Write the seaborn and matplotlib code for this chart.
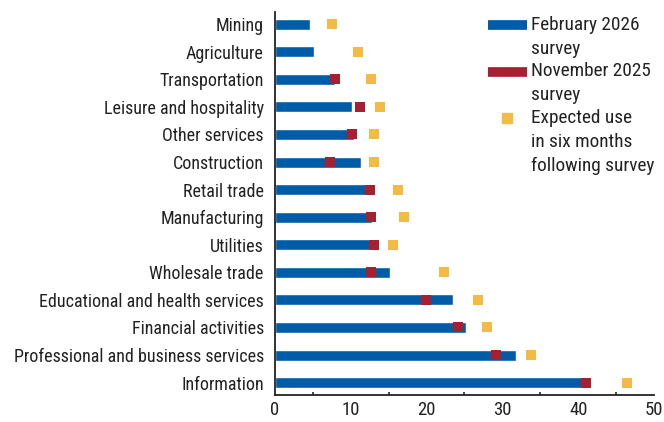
import numpy as np
import pandas as pd
import matplotlib
matplotlib.use("Agg")
import matplotlib.pyplot as plt
import seaborn as sns
from matplotlib.lines import Line2D
from matplotlib.legend_handler import HandlerBase
from matplotlib.ticker import MultipleLocator

# Data
industries = ["Mining", "Agriculture", "Transportation", "Leisure and hospitality",
              "Other services", "Construction", "Retail trade", "Manufacturing",
              "Utilities", "Wholesale trade", "Educational and health services",
              "Financial activities", "Professional and business services", "Information"]
feb_2026 = [4.6, 5.1, 7.9, 10.2, 10.4, 11.3, 12.5, 12.8, 12.9, 15.2, 23.5, 25.2, 31.8, 41.2]
nov_2025 = [np.nan, np.nan, 7.9, 11.2, 10.2, 7.3, 12.5, 12.7, 13.1, 12.7, 19.9, 24.1, 29.2, 41.0]
expected = [7.5, 10.9, 12.7, 13.9, 13.1, 13.1, 16.2, 17.0, 15.6, 22.3, 26.8, 28.0, 33.8, 46.4]
legend_labels = ["February 2026\nsurvey", "November 2025\nsurvey",
                 "Expected use\nin six months\nfollowing survey"]

BLUE = "#005ca6"
RED = "#a71f30"
YELLOW = "#f4bb44"
LEG_FS = 13.9
LINE_STEP = 1.22  # distance between legend text lines, in font sizes


df = pd.DataFrame({"industry": industries, "feb": feb_2026,
                   "nov": nov_2025, "exp": expected})


class TopAlignedHandler(HandlerBase):
    # put the legend key next to the first line of a multi-line label
    def __init__(self, nlines, **kw):
        super().__init__(**kw)
        self.nlines = nlines

    def create_artists(self, legend, orig_handle, xdescent, ydescent,
                       width, height, fontsize, trans):
        y = height / 2 - ydescent + (self.nlines - 1) / 2 * LINE_STEP * fontsize
        if orig_handle.get_marker() not in (None, "None", ""):
            art = Line2D([width / 2 - xdescent], [y], marker="s", linestyle="none",
                         color=orig_handle.get_color(),
                         markersize=orig_handle.get_markersize())
        else:
            art = Line2D([-xdescent, width - xdescent], [y, y],
                         color=orig_handle.get_color(), lw=orig_handle.get_linewidth(),
                         solid_capstyle="butt")
        art.set_transform(trans)
        return [art]


sns.set_style("white")
plt.rcParams["font.family"] = ["Roboto Condensed", "Liberation Sans Narrow", "DejaVu Sans"]
plt.rcParams["font.stretch"] = "condensed"

fig = plt.figure(figsize=(6.64, 4.22), dpi=100)
ax = fig.add_axes([0.414, 0.064, 0.571, 0.908])

sns.barplot(data=df, y="industry", x="feb", orient="h", color=BLUE,
            width=0.4, saturation=1, ax=ax, zorder=2)
sns.scatterplot(data=df, y="industry", x="nov", marker="s", s=62, color=RED,
                linewidth=0, ax=ax, zorder=3)
sns.scatterplot(data=df, y="industry", x="exp", marker="s", s=53, color=YELLOW,
                linewidth=0, ax=ax, zorder=3)

ax.set_xlim(0, 50)
ax.set_ylim(13.45, -0.45)
ax.set_xlabel("")
ax.set_ylabel("")
ax.xaxis.set_major_locator(MultipleLocator(10))
ax.xaxis.set_minor_locator(MultipleLocator(5))
ax.tick_params(axis="x", which="major", direction="in", length=5, width=1.2,
               labelsize=13.5, colors="#222222", pad=4)
ax.tick_params(axis="x", which="minor", direction="in", length=2.5, width=1.2,
               bottom=True)
ax.tick_params(axis="y", length=0, labelsize=13, colors="#222222", pad=8)
for lbl in ax.get_xticklabels() + ax.get_yticklabels():
    lbl.set_color("#222222")

sns.despine(ax=ax)
for side in ["left", "bottom"]:
    ax.spines[side].set_color("#222222")
    ax.spines[side].set_linewidth(1.3)

handles = [
    Line2D([0], [0], color=BLUE, lw=7),
    Line2D([0], [0], color=RED, lw=7),
    Line2D([0], [0], color=YELLOW, marker="s", linestyle="none", markersize=7.2),
]
handler_map = {h: TopAlignedHandler(lab.count("\n") + 1)
               for h, lab in zip(handles, legend_labels)}
leg = fig.legend(handles, legend_labels, loc="upper left",
                 bbox_to_anchor=(488 / 664, 1 - 16 / 422), bbox_transform=fig.transFigure,
                 frameon=False, fontsize=LEG_FS, handlelength=2.0, handletextpad=0.25,
                 labelspacing=0.23, borderpad=0, borderaxespad=0,
                 labelcolor="#222222", handler_map=handler_map)
for t in leg.get_texts():
    t.set_linespacing(1.42)

fig.savefig("out.png", dpi=100)
